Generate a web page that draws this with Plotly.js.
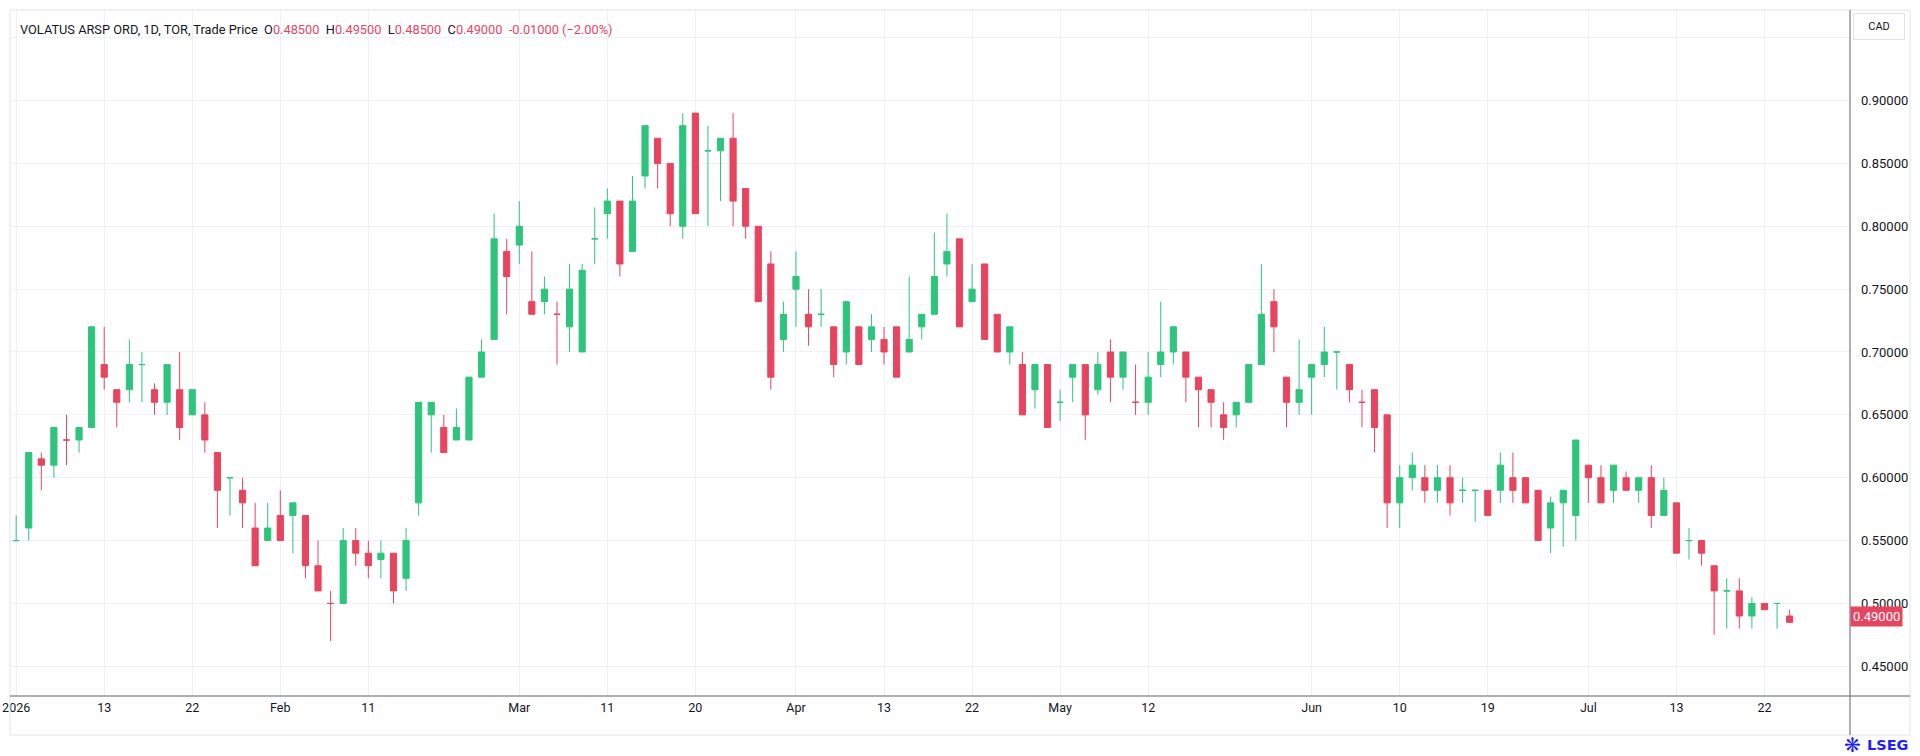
<!DOCTYPE html>
<html>
<head>
<meta charset="utf-8">
<script src="https://cdn.plot.ly/plotly-3.0.1.min.js"></script>
<style>
  html, body { margin: 0; padding: 0; background: #ffffff; }
  #chart { width: 1920px; height: 756px; }
</style>
</head>
<body>
<div id="chart"></div>
<script>
// ---- data (trading days, TSX 2026) ----
const dates = [
  '2026-01-02','2026-01-05','2026-01-06','2026-01-07','2026-01-08','2026-01-09',
  '2026-01-12','2026-01-13','2026-01-14','2026-01-15','2026-01-16',
  '2026-01-19','2026-01-20','2026-01-21','2026-01-22','2026-01-23',
  '2026-01-26','2026-01-27','2026-01-28','2026-01-29','2026-01-30',
  '2026-02-02','2026-02-03','2026-02-04','2026-02-05','2026-02-06',
  '2026-02-09','2026-02-10','2026-02-11','2026-02-12','2026-02-13',
  '2026-02-17','2026-02-18','2026-02-19','2026-02-20',
  '2026-02-23','2026-02-24','2026-02-25','2026-02-26','2026-02-27',
  '2026-03-02','2026-03-03','2026-03-04','2026-03-05','2026-03-06',
  '2026-03-09','2026-03-10','2026-03-11','2026-03-12','2026-03-13',
  '2026-03-16','2026-03-17','2026-03-18','2026-03-19','2026-03-20',
  '2026-03-23','2026-03-24','2026-03-25','2026-03-26','2026-03-27',
  '2026-03-30','2026-03-31','2026-04-01','2026-04-02',
  '2026-04-06','2026-04-07','2026-04-08','2026-04-09','2026-04-10',
  '2026-04-13','2026-04-14','2026-04-15','2026-04-16','2026-04-17',
  '2026-04-20','2026-04-21','2026-04-22','2026-04-23','2026-04-24',
  '2026-04-27','2026-04-28','2026-04-29','2026-04-30','2026-05-01',
  '2026-05-04','2026-05-05','2026-05-06','2026-05-07','2026-05-08',
  '2026-05-11','2026-05-12','2026-05-13','2026-05-14','2026-05-15',
  '2026-05-19','2026-05-20','2026-05-21','2026-05-22',
  '2026-05-25','2026-05-26','2026-05-27','2026-05-28','2026-05-29',
  '2026-06-01','2026-06-02','2026-06-03','2026-06-04','2026-06-05',
  '2026-06-08','2026-06-09','2026-06-10','2026-06-11','2026-06-12',
  '2026-06-15','2026-06-16','2026-06-17','2026-06-18','2026-06-19',
  '2026-06-22','2026-06-23','2026-06-24','2026-06-25','2026-06-26',
  '2026-06-29','2026-06-30','2026-07-02','2026-07-03',
  '2026-07-06','2026-07-07','2026-07-08','2026-07-09','2026-07-10',
  '2026-07-13','2026-07-14','2026-07-15','2026-07-16','2026-07-17',
  '2026-07-20','2026-07-21','2026-07-22','2026-07-23','2026-07-24'
];

const opens = [
  0.55,0.56,0.615,0.61,0.63,0.63,0.64,0.69,0.67,0.67,0.69,0.67,0.66,0.67,0.65,0.65,
  0.62,0.60,0.59,0.56,0.55,0.57,0.57,0.57,0.53,0.50,0.50,0.55,0.54,0.535,0.54,
  0.52,0.58,0.65,0.64,0.63,0.63,0.68,0.71,0.78,
  0.785,0.74,0.74,0.73,0.72,0.70,0.79,0.81,0.82,0.78,0.84,0.87,0.85,0.80,0.89,
  0.86,0.86,0.87,0.83,0.80,0.77,0.71,0.75,0.73,
  0.73,0.72,0.70,0.72,0.71,0.71,0.72,0.70,0.72,0.73,0.77,0.79,0.74,0.77,0.73,
  0.70,0.69,0.67,0.69,0.66,
  0.68,0.69,0.67,0.70,0.68,0.66,0.66,0.69,0.70,0.70,0.68,0.67,0.65,0.65,
  0.66,0.69,0.74,0.68,0.66,
  0.68,0.69,0.70,0.69,0.66,0.67,0.65,0.58,0.60,0.60,0.59,0.60,0.59,0.59,0.59,
  0.59,0.60,0.60,0.59,0.56,0.58,0.57,0.61,0.60,
  0.59,0.60,0.59,0.60,0.57,0.58,0.55,0.55,0.53,0.51,0.51,0.49,0.50,0.50,0.485
];
const highs = [
  0.57,0.62,0.62,0.64,0.65,0.64,0.72,0.72,0.67,0.71,0.70,0.675,0.69,0.70,0.67,0.66,
  0.62,0.60,0.60,0.58,0.58,0.59,0.58,0.57,0.55,0.51,0.56,0.56,0.55,0.55,0.54,
  0.56,0.66,0.66,0.65,0.655,0.68,0.71,0.81,0.79,
  0.82,0.78,0.76,0.74,0.77,0.77,0.815,0.83,0.82,0.84,0.88,0.87,0.85,0.89,0.89,
  0.88,0.87,0.89,0.83,0.80,0.78,0.74,0.78,0.75,
  0.75,0.72,0.74,0.72,0.73,0.72,0.72,0.76,0.73,0.795,0.81,0.79,0.77,0.77,0.73,
  0.72,0.70,0.69,0.69,0.67,
  0.69,0.69,0.70,0.71,0.70,0.69,0.70,0.74,0.72,0.70,0.68,0.67,0.66,0.66,
  0.69,0.77,0.75,0.68,0.71,
  0.69,0.72,0.70,0.69,0.67,0.67,0.65,0.61,0.62,0.61,0.61,0.61,0.60,0.59,0.59,
  0.62,0.62,0.60,0.59,0.585,0.59,0.63,0.61,0.61,
  0.61,0.605,0.60,0.61,0.60,0.58,0.56,0.55,0.53,0.52,0.52,0.505,0.50,0.50,0.495
];
const lows = [
  0.55,0.55,0.59,0.60,0.61,0.62,0.64,0.67,0.64,0.66,0.66,0.65,0.65,0.63,0.65,0.62,
  0.56,0.57,0.56,0.53,0.55,0.55,0.54,0.52,0.51,0.47,0.50,0.53,0.52,0.52,0.50,
  0.51,0.57,0.62,0.62,0.63,0.63,0.68,0.71,0.73,
  0.77,0.73,0.73,0.69,0.70,0.70,0.77,0.79,0.76,0.78,0.83,0.83,0.80,0.79,0.81,
  0.80,0.82,0.80,0.79,0.74,0.67,0.70,0.72,0.705,
  0.72,0.68,0.69,0.69,0.70,0.69,0.68,0.70,0.71,0.73,0.76,0.72,0.74,0.71,0.70,
  0.69,0.65,0.655,0.64,0.645,
  0.66,0.63,0.666,0.66,0.67,0.65,0.65,0.68,0.69,0.66,0.64,0.64,0.63,0.64,
  0.66,0.69,0.70,0.64,0.65,
  0.65,0.68,0.67,0.66,0.64,0.62,0.56,0.56,0.59,0.58,0.58,0.57,0.58,0.565,0.57,
  0.58,0.58,0.58,0.55,0.54,0.545,0.55,0.58,0.58,
  0.58,0.59,0.58,0.56,0.57,0.54,0.535,0.53,0.475,0.48,0.48,0.48,0.495,0.48,0.485
];
const closes = [
  0.55,0.62,0.61,0.64,0.63,0.64,0.72,0.68,0.66,0.69,0.69,0.66,0.69,0.64,0.67,0.63,
  0.59,0.60,0.58,0.53,0.56,0.55,0.58,0.53,0.51,0.50,0.55,0.54,0.53,0.54,0.51,
  0.55,0.66,0.66,0.62,0.64,0.68,0.70,0.79,0.76,
  0.80,0.73,0.75,0.73,0.75,0.765,0.79,0.82,0.77,0.82,0.88,0.85,0.81,0.88,0.81,
  0.86,0.87,0.82,0.80,0.74,0.68,0.73,0.76,0.72,
  0.73,0.69,0.74,0.69,0.72,0.70,0.68,0.71,0.73,0.76,0.78,0.72,0.75,0.71,0.70,
  0.72,0.65,0.69,0.64,0.66,
  0.69,0.65,0.69,0.68,0.70,0.66,0.68,0.70,0.72,0.68,0.67,0.66,0.64,0.66,
  0.69,0.73,0.72,0.66,0.67,
  0.69,0.70,0.70,0.67,0.66,0.64,0.58,0.60,0.61,0.59,0.60,0.58,0.59,0.59,0.57,
  0.61,0.59,0.58,0.55,0.58,0.59,0.63,0.60,0.58,
  0.61,0.59,0.60,0.57,0.59,0.54,0.55,0.54,0.51,0.51,0.49,0.50,0.495,0.50,0.49
];

const tickDates = ['2026-01-02','2026-01-13','2026-01-22','2026-02-02','2026-02-11',
  '2026-03-02','2026-03-11','2026-03-20','2026-04-01','2026-04-13','2026-04-22',
  '2026-05-01','2026-05-12','2026-06-01','2026-06-10','2026-06-19','2026-07-02',
  '2026-07-13','2026-07-22'];
const tickLabels = ['2026','13','22','Feb','11','Mar','11','20','Apr','13','22',
  'May','12','Jun','10','19','Jul','13','22'];
const priceTicks = [0.45,0.50,0.55,0.60,0.65,0.70,0.75,0.80,0.85,0.90,0.95];
const symbolTitle = 'VOLATUS ARSP ORD, 1D, TOR, Trade Price';
const currency = 'CAD';

// ---- styling ----
const GREEN = '#2ec47e';
const RED = '#e6455f';
const TEXT = '#131722';
const GRID = '#eff1f4';
const AXIS = '#5d606b';
const FONT = 'Roboto, "Open Sans", sans-serif';

// colour each candle by close vs previous close
const upIdx = [], downIdx = [];
closes.forEach((c, i) => {
  const prev = i === 0 ? c : closes[i - 1];
  (c >= prev ? upIdx : downIdx).push(i);
});
const pick = (arr, idx) => idx.map(i => arr[i]);
function candleTrace(idx, color) {
  return {
    type: 'candlestick',
    x: pick(dates, idx), open: pick(opens, idx), high: pick(highs, idx),
    low: pick(lows, idx), close: pick(closes, idx),
    increasing: { line: { color: color, width: 1 }, fillcolor: color },
    decreasing: { line: { color: color, width: 1 }, fillcolor: color },
    whiskerwidth: 0, hoverinfo: 'skip', showlegend: false
  };
}

const n = closes.length;
const lastO = opens[n-1], lastH = highs[n-1], lastL = lows[n-1], lastC = closes[n-1];
const chg = lastC - closes[n-2];
const pct = chg / closes[n-2] * 100;
const fmt = v => v.toFixed(5);
const sgn = v => (v < 0 ? '\u2212' : '+') + Math.abs(v).toFixed(2);
const valColor = chg < 0 ? RED : GREEN;
const sp = t => '<span style="color:' + valColor + '">' + t + '</span>';
const header = symbolTitle + '  O' + sp(fmt(lastO)) + '  H' + sp(fmt(lastH)) +
  '  L' + sp(fmt(lastL)) + '  C' + sp(fmt(lastC)) + '  ' +
  sp((chg < 0 ? '-' : '+') + Math.abs(chg).toFixed(5) + ' (' + sgn(pct) + '%)');

// plot area px: left 10, right 1850, top 10, bottom 696
const PL = 10, PR = 1850, PT = 10, PB = 696;
const px = x => (x - PL) / (PR - PL);
const py = y => (PB - y) / (PB - PT);

const layout = {
  width: 1920, height: 756,
  margin: { l: PL, r: 1920 - PR, t: PT, b: 756 - PB, pad: 0 },
  paper_bgcolor: '#ffffff', plot_bgcolor: '#ffffff',
  font: { family: FONT, size: 12, color: TEXT },
  boxgap: 0.3,
  xaxis: {
    type: 'category', categoryorder: 'array', categoryarray: dates,
    range: [-0.49, 145.8],
    tickmode: 'array', tickvals: tickDates, ticktext: tickLabels,
    showgrid: true, gridcolor: GRID, gridwidth: 1,
    showline: false, zeroline: false, ticks: '',
    tickfont: { family: FONT, size: 12.5, color: TEXT },
    ticklabelstandoff: 2,
    rangeslider: { visible: false }, fixedrange: true
  },
  yaxis: {
    side: 'right', range: [0.4264, 0.972],
    tickmode: 'array', tickvals: priceTicks,
    ticktext: priceTicks.map(v => v > 0.925 ? '' : v.toFixed(5)),
    showgrid: true, gridcolor: GRID, gridwidth: 1,
    showline: false, zeroline: false, ticks: '',
    tickfont: { family: FONT, size: 13, color: TEXT },
    ticklabelstandoff: 10, fixedrange: true
  },
  shapes: [
    { type: 'rect', xref: 'paper', yref: 'paper', x0: 0, x1: px(1910), y0: py(735), y1: 1,
      line: { color: '#e0e3eb', width: 1 } },
    { type: 'line', xref: 'paper', yref: 'paper', x0: 1, x1: 1, y0: py(735), y1: 1,
      line: { color: AXIS, width: 1 } },
    { type: 'line', xref: 'paper', yref: 'paper', x0: 0, x1: px(1910), y0: 0, y1: 0,
      line: { color: AXIS, width: 1 } }
  ],
  annotations: [
    { xref: 'paper', yref: 'paper', x: px(18), y: py(30), xanchor: 'left', yanchor: 'middle',
      text: header, showarrow: false, font: { family: FONT, size: 12.8, color: TEXT } },
    { xref: 'paper', yref: 'paper', x: px(1879), y: py(27), xanchor: 'center', yanchor: 'middle',
      text: currency, showarrow: false, width: 46, height: 21,
      bordercolor: '#e0e3eb', borderwidth: 1, borderpad: 2, bgcolor: '#ffffff',
      font: { family: FONT, size: 11, color: TEXT } },
    { xref: 'paper', yref: 'y', x: 1, y: lastC, xanchor: 'left', yanchor: 'middle',
      text: fmt(lastC), showarrow: false, bgcolor: RED, borderpad: 2,
      font: { family: FONT, size: 13, color: '#ffffff' } },
    { xref: 'paper', yref: 'paper', x: px(1911), y: py(745), xanchor: 'right', yanchor: 'middle',
      text: '<b>LSEG</b>', showarrow: false,
      font: { family: '"DejaVu Sans", sans-serif', size: 14.5, color: '#1f1fff' } },
    { xref: 'paper', yref: 'paper', x: px(1863), y: py(745), xanchor: 'right', yanchor: 'middle',
      text: '\u274B', showarrow: false,
      font: { family: '"DejaVu Sans", sans-serif', size: 20, color: '#1f1fff' } }
  ]
};

Plotly.newPlot('chart', [candleTrace(upIdx, GREEN), candleTrace(downIdx, RED)], layout,
  { staticPlot: true, displayModeBar: false });
</script>
</body>
</html>
